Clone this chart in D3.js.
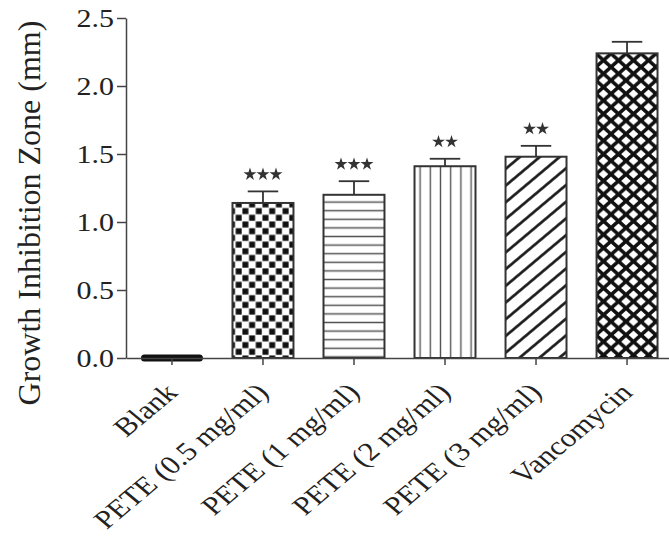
<!DOCTYPE html>
<html>
<head>
<meta charset="utf-8">
<script src="https://cdn.jsdelivr.net/npm/d3@7"></script>
<style>
  body { margin: 0; background: #fff; }
  text { font-family: "Liberation Serif", "Times New Roman", serif; fill: #222; }
</style>
</head>
<body>
<div id="chart"></div>
<script>
// data
let categories = ["Blank", "PETE (0.5 mg/ml)", "PETE (1 mg/ml)", "PETE (2 mg/ml)", "PETE (3 mg/ml)", "Vancomycin"];
let values = [0, 1.14, 1.20, 1.41, 1.48, 2.24];
let errors = [0, 0.085, 0.10, 0.055, 0.08, 0.085];
let stars = [0, 3, 3, 2, 2, 0];
let yTicks = [0, 0.5, 1.0, 1.5, 2.0, 2.5];
let fills = ["none", "url(#p-check)", "url(#p-hline)", "url(#p-vline)", "url(#p-diag)", "url(#p-cross)"];

let data = categories.map(function (c, i) {
    return { name: c, value: values[i], err: errors[i], stars: stars[i], fill: fills[i] };
});

let W = 669, H = 541;
let svg = d3.select("#chart")
    .append("svg")
    .attr("width", W)
    .attr("height", H);

svg.append("rect").attr("width", W).attr("height", H).attr("fill", "#fff");

// hatch patterns
let defs = svg.append("defs");

let pc = defs.append("pattern").attr("id", "p-check")
    .attr("patternUnits", "userSpaceOnUse").attr("width", 13.4).attr("height", 13.4)
    .attr("x", 141.5).attr("y", 0);
pc.append("rect").attr("x", 0.4).attr("y", 0.4).attr("width", 6).attr("height", 6).attr("fill", "#111");
pc.append("rect").attr("x", 7.1).attr("y", 7.1).attr("width", 6).attr("height", 6).attr("fill", "#111");

let ph = defs.append("pattern").attr("id", "p-hline")
    .attr("patternUnits", "userSpaceOnUse").attr("width", 10).attr("height", 8.6);
ph.append("line").attr("x1", 0).attr("x2", 10).attr("y1", 4.3).attr("y2", 4.3)
    .attr("stroke", "#555").attr("stroke-width", 1.5);

let pv = defs.append("pattern").attr("id", "p-vline")
    .attr("patternUnits", "userSpaceOnUse").attr("width", 10.2).attr("height", 10)
    .attr("x", 415);
pv.append("line").attr("x1", 5.1).attr("x2", 5.1).attr("y1", 0).attr("y2", 10)
    .attr("stroke", "#555").attr("stroke-width", 1.4);

let pd = defs.append("pattern").attr("id", "p-diag")
    .attr("patternUnits", "userSpaceOnUse").attr("width", 10).attr("height", 12.8)
    .attr("patternTransform", "rotate(-40)");
pd.append("line").attr("x1", 0).attr("x2", 10).attr("y1", 6.4).attr("y2", 6.4)
    .attr("stroke", "#111").attr("stroke-width", 2.6);

let px = defs.append("pattern").attr("id", "p-cross")
    .attr("patternUnits", "userSpaceOnUse").attr("width", 15).attr("height", 13.4)
    .attr("x", 596);
px.append("path")
    .attr("d", "M-7.5,-6.7L22.5,20.1M-7.5,20.1L22.5,-6.7")
    .attr("stroke", "#111").attr("stroke-width", 3.6).attr("fill", "none");

// scales
let x = d3.scaleBand()
    .domain(categories)
    .range([126, 673])
    .paddingInner(0.33)
    .paddingOuter(0.17);

let y = d3.scaleLinear()
    .domain([0, 2.5])
    .range([358, 18]);

// bars
svg.append("g")
    .selectAll("rect")
    .data(data.filter(function (d) { return d.value > 0; }))
    .enter()
    .append("rect")
    .attr("x", function (d) { return x(d.name); })
    .attr("y", function (d) { return y(d.value); })
    .attr("width", x.bandwidth())
    .attr("height", function (d) { return y(0) - y(d.value); })
    .attr("fill", function (d) { return d.fill; })
    .attr("stroke", "#333")
    .attr("stroke-width", 2);

// zero-height bar (Blank) drawn as a thick line
svg.append("g")
    .selectAll("line")
    .data(data.filter(function (d) { return d.value === 0; }))
    .enter()
    .append("line")
    .attr("x1", function (d) { return x(d.name) + 3; })
    .attr("x2", function (d) { return x(d.name) + x.bandwidth() - 3; })
    .attr("y1", function (d) { return y(d.value); })
    .attr("y2", function (d) { return y(d.value); })
    .attr("stroke", "#111")
    .attr("stroke-width", 7)
    .attr("stroke-linecap", "round");

// error bars
let eb = svg.append("g")
    .selectAll("g")
    .data(data.filter(function (d) { return d.err > 0; }))
    .enter()
    .append("g")
    .attr("stroke", "#333")
    .attr("stroke-width", 1.8);

eb.append("line")
    .attr("x1", function (d) { return x(d.name) + x.bandwidth() / 2; })
    .attr("x2", function (d) { return x(d.name) + x.bandwidth() / 2; })
    .attr("y1", function (d) { return y(d.value); })
    .attr("y2", function (d) { return y(d.value + d.err); });

eb.append("line")
    .attr("x1", function (d) { return x(d.name) + x.bandwidth() / 4; })
    .attr("x2", function (d) { return x(d.name) + x.bandwidth() * 3 / 4; })
    .attr("y1", function (d) { return y(d.value + d.err); })
    .attr("y2", function (d) { return y(d.value + d.err); });

// significance stars
let starPts = [];
data.forEach(function (d) {
    for (let k = 0; k < d.stars; k++) {
        starPts.push({
            cx: x(d.name) + x.bandwidth() / 2 + (k - (d.stars - 1) / 2) * 13,
            cy: y(d.value + d.err) - 17
        });
    }
});

svg.append("g")
    .selectAll("path")
    .data(starPts)
    .enter()
    .append("path")
    .attr("transform", function (d) { return "translate(" + d.cx + "," + d.cy + ")"; })
    .attr("d", d3.symbol().type(d3.symbolStar).size(52))
    .attr("fill", "#333");

// y axis
let gy = svg.append("g")
    .attr("transform", "translate(126,0)")
    .call(d3.axisLeft(y).tickValues(yTicks).tickFormat(d3.format(".1f")).tickSize(9).tickSizeOuter(0));

gy.select(".domain").attr("stroke", "#444").attr("stroke-width", 1.5);
gy.selectAll(".tick line").attr("stroke", "#444").attr("stroke-width", 1.5);
gy.selectAll(".tick text")
    .attr("x", 0)
    .attr("dy", "0.34em")
    .attr("transform", "translate(-12,0) scale(1.2,1)")
    .style("font-size", "25px")
    .style("font-family", "'Liberation Serif', 'Times New Roman', serif")
    .attr("fill", "#222");

// x axis
let gx = svg.append("g")
    .attr("transform", "translate(0,358)")
    .call(d3.axisBottom(x).tickSize(7).tickSizeOuter(0));

gx.select(".domain").attr("stroke", "#444").attr("stroke-width", 1.5);
gx.selectAll(".tick line").attr("stroke", "#444").attr("stroke-width", 1.5);
gx.selectAll(".tick text")
    .attr("x", 0)
    .attr("y", 0)
    .attr("dy", 0)
    .attr("transform", "translate(7,36) scale(1.2,1) rotate(-45)")
    .style("text-anchor", "end")
    .style("font-size", "26px")
    .style("font-family", "'Liberation Serif', 'Times New Roman', serif")
    .attr("fill", "#222");

// y title
svg.append("text")
    .attr("transform", "translate(40,213) rotate(-90)")
    .attr("text-anchor", "middle")
    .style("font-size", "32px")
    .text("Growth Inhibition Zone (mm)");
</script>
</body>
</html>
